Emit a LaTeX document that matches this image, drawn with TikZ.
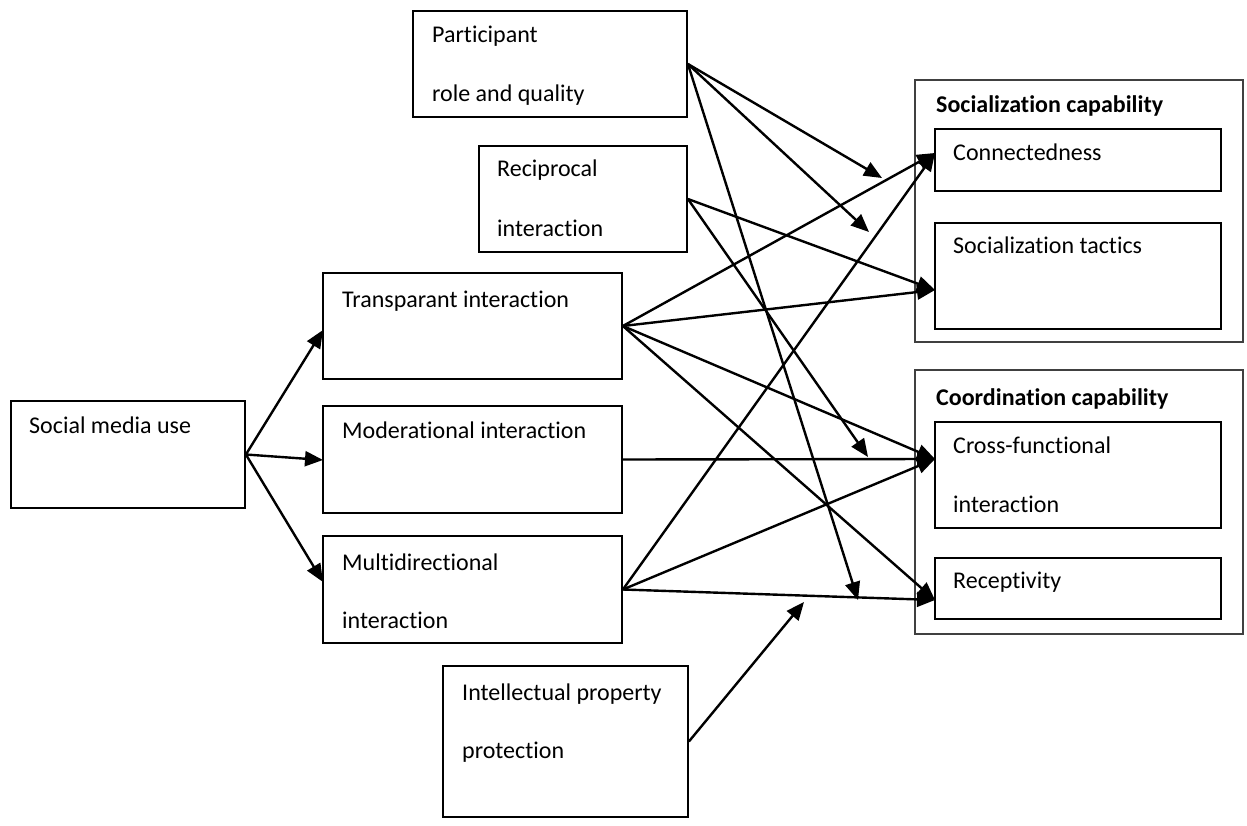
\documentclass[tikz,border=0pt]{standalone}
\usepackage{fontspec}
\setmainfont{Carlito}[Ligatures=NoCommon]
\usetikzlibrary{arrows.meta,fit}
\begin{document}
\begin{tikzpicture}[x=1pt,y=-1pt,
  box/.style={draw=black,line width=1.8pt,inner sep=0pt},
  outerbox/.style={draw=black!75,line width=2pt,inner sep=0pt},
  lbl/.style={anchor=base west,inner sep=0pt,font=\fontsize{24}{28}\selectfont},
  ttl/.style={anchor=base west,inner sep=0pt,font=\fontsize{24}{28}\selectfont\bfseries},
  arr/.style={line width=2.4pt,-{Triangle[length=18pt,width=15pt]}}]
\useasboundingbox (0,0) rectangle (1247,826);
\fill[white] (0,0) rectangle (1247,826);
% boxes
\node[box,fit={(11,401) (245,508)}] (sm) {};
\node[box,fit={(323,273) (622,379)}] (tr) {};
\node[box,fit={(323,406) (622,513)}] (mo) {};
\node[box,fit={(323,536) (622,643)}] (mu) {};
\node[box,fit={(413,11) (687,117)}] (pa) {};
\node[box,fit={(479,146) (687,252)}] (re) {};
\node[box,fit={(443,666) (688,817)}] (ip) {};
\node[outerbox,fit={(915,80) (1243,342)}] (soc) {};
\node[box,fit={(935,129) (1221,191)}] (co) {};
\node[box,fit={(935,223) (1221,329)}] (st) {};
\node[outerbox,fit={(915,370) (1243,634)}] (crd) {};
\node[box,fit={(935,422) (1221,528)}] (cf) {};
\node[box,fit={(935,558) (1221,619)}] (rc) {};
% texts
\node[lbl] (smt) at (29,433) {Social media use};
\node[lbl] (trt) at (342,307) {Transparant interaction};
\node[lbl] (mot) at (342,438) {Moderational interaction};
\node[lbl] (mut1) at (342,570) {Multidirectional};
\node[lbl] (mut2) at (342,628) {interaction};
\node[lbl] (pat1) at (432,43) {Participant};
\node[lbl] (pat2) at (432,102) {role and quality};
\node[lbl] (ret1) at (497,177) {Reciprocal};
\node[lbl] (ret2) at (497,237) {interaction};
\node[lbl] (ipt1) at (462,700) {Intellectual property};
\node[lbl] (ipt2) at (462,758) {protection};
\node[ttl] (soct) at (936,113) {Socialization capability};
\node[lbl] (cot) at (953,161) {Connectedness};
\node[lbl] (stt) at (953,254) {Socialization tactics};
\node[ttl] (crdt) at (936,405) {Coordination capability};
\node[lbl] (cft1) at (953,453) {Cross-functional};
\node[lbl] (cft2) at (953,512) {interaction};
\node[lbl] (rct) at (953,588) {Receptivity};
% arrow targets
\coordinate (tTr) at (323,330);
\coordinate (tMo) at (323,460);
\coordinate (tMu) at (323,582);
\coordinate (pA) at (882,178);
\coordinate (pB) at (869,232);
\coordinate (pC) at (858,600);
\coordinate (rB) at (868,457);
\coordinate (tCo) at (935,153);
\coordinate (tSt) at (935,290);
\coordinate (tCf) at (935,459);
\coordinate (tRc) at (935,600);
\coordinate (iA) at (804,602);
% arrows
\draw[arr] (sm.east) -- (tTr);
\draw[arr] (sm.east) -- (tMo);
\draw[arr] (sm.east) -- (tMu);
\draw[arr] (pa.east) -- (pA);
\draw[arr] (pa.east) -- (pB);
\draw[arr] (pa.east) -- (pC);
\draw[arr] (re.east) -- (tSt);
\draw[arr] (re.east) -- (rB);
\draw[arr] (tr.east) -- (tCo);
\draw[arr] (tr.east) -- (tSt);
\draw[arr] (tr.east) -- (tCf);
\draw[arr] (tr.east) -- (tRc);
\draw[arr] (mo.east) -- (tCf);
\draw[arr] (mu.east) -- (tCo);
\draw[arr] (mu.east) -- (tCf);
\draw[arr] (mu.east) -- (tRc);
\draw[arr] (ip.east) -- (iA);
\end{tikzpicture}
\end{document}
